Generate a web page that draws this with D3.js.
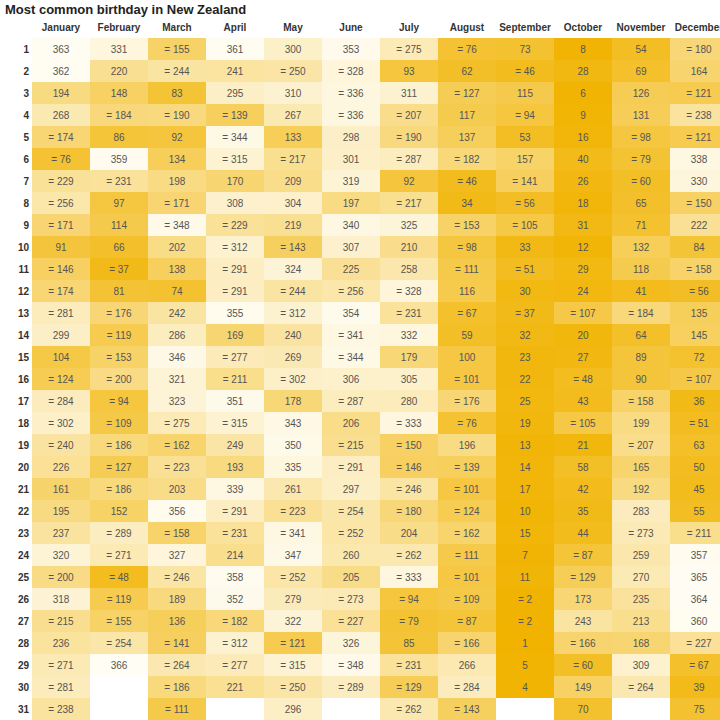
<!DOCTYPE html>
<html lang="en">
<head>
<meta charset="UTF-8">
<title>Most common birthday in New Zealand</title>
<script src="https://cdn.jsdelivr.net/npm/d3@7.9.0/dist/d3.min.js"></script>
<style>
    body { margin: 0; background: #fff; overflow: hidden; }
    svg { display: block; font-family: "Liberation Sans", Arial, sans-serif; }
    .title { font-size: 13px; font-weight: bold; fill: #222; }
    .head { font-size: 10px; font-weight: bold; fill: #333; }
    .cell-label { font-size: 10px; fill: #555; }
</style>
</head>
<body>
<svg id="chart" width="720" height="720"></svg>
<script>
// months along the top, days down the side
const months = ['January', 'February', 'March', 'April', 'May', 'June',
    'July', 'August', 'September', 'October', 'November', 'December'];
const days = d3.range(1, 32);

// birthday rank per day (1 = most common), "=" marks a tie
const january = ['363','362','194','268','=174','=76','=229','=256','=171','91','=146','=174','=281','299','104','=124',
    '=284','=302','=240','226','161','195','237','320','=200','318','=215','236','=271','=281','=238'];
const february = ['331','220','148','=184','86','359','=231','97','114','66','=37','81','=176','=119','=153','=200',
    '=94','=109','=186','=127','=186','152','=289','=271','=48','=119','=155','=254','366'];
const march = ['=155','=244','83','=190','92','134','198','=171','=348','202','138','74','242','286','346','321',
    '323','=275','=162','=223','203','356','=158','327','=246','189','136','=141','=264','=186','=111'];
const april = ['361','241','295','=139','=344','=315','170','308','=229','=312','=291','=291','355','169','=277','=211',
    '351','=315','249','193','339','=291','=231','214','358','352','=182','=312','=277','221'];
const may = ['300','=250','310','267','133','=217','209','304','219','=143','324','=244','=312','240','269','=302',
    '178','343','350','335','261','=223','=341','347','=252','279','322','=121','=315','=250','296'];
const june = ['353','=328','=336','=336','298','301','319','197','340','307','225','=256','354','=341','=344','306',
    '=287','206','=215','=291','297','=254','=252','260','205','=273','=227','326','=348','=289'];
const july = ['=275','93','311','=207','=190','=287','92','=217','325','210','258','=328','=231','332','179','305',
    '280','=333','=150','=146','=246','=180','204','=262','=333','=94','=79','85','=231','=129','=262'];
const august = ['=76','62','=127','117','137','=182','=46','34','=153','=98','=111','116','=67','59','100','=101',
    '=176','=76','196','=139','=101','=124','=162','=111','=101','=109','=87','=166','266','=284','=143'];
const september = ['73','=46','115','=94','53','157','=141','=56','=105','33','=51','30','=37','32','23','22',
    '25','19','13','14','17','10','15','7','11','=2','=2','1','5','4'];
const october = ['8','28','6','9','16','40','26','18','31','12','29','24','=107','20','27','=48',
    '43','=105','21','58','42','35','44','=87','=129','173','243','=166','=60','149','70'];
const november = ['54','69','126','131','=98','=79','=60','65','71','132','118','41','=184','64','89','90',
    '=158','199','=207','165','192','283','=273','259','270','235','213','168','309','=264'];
const december = ['=180','164','=121','=238','=121','338','330','=150','222','84','=158','=56','135','145','72','=107',
    '36','=51','63','50','45','55','=211','357','365','364','360','=227','=67','39','75'];

const ranks = [january, february, march, april, may, june, july, august, september, october, november, december];

// flatten into cells
let cells = [];
ranks.forEach((col, m) => {
    col.forEach((r, i) => {
        let tied = r.startsWith('=');
        let value = +r.replace('=', '');
        cells.push({
            month: months[m],
            day: days[i],
            value: value,
            label: tied ? '= ' + value : String(value)
        });
    });
});

const svg = d3.select('#chart');

let x = d3.scaleBand().domain(months).range([32, 32 + 58 * 12]);
let y = d3.scaleBand().domain(days).range([38, 38 + 22 * 31]);

// rank 1 is the deepest gold, rank 366 nearly white
let color = d3.scaleLinear()
    .domain([1, 366])
    .range(['#f1b300', '#fffdf4'])
    .interpolate(d3.interpolateRgb);

svg.append('text')
    .attr('class', 'title')
    .attr('x', 5)
    .attr('y', 14)
    .text('Most common birthday in New Zealand');

// heatmap cells
svg.selectAll('rect.cell')
    .data(cells)
    .enter()
    .append('rect')
    .attr('class', 'cell')
    .attr('x', d => x(d.month))
    .attr('y', d => y(d.day))
    .attr('width', x.bandwidth())
    .attr('height', y.bandwidth())
    .attr('fill', d => color(d.value));

svg.selectAll('text.cell-label')
    .data(cells)
    .enter()
    .append('text')
    .attr('class', 'cell-label')
    .attr('x', d => x(d.month) + x.bandwidth() / 2)
    .attr('y', d => y(d.day) + y.bandwidth() / 2)
    .attr('text-anchor', 'middle')
    .attr('dominant-baseline', 'central')
    .text(d => d.label);

// month headers
svg.selectAll('text.month')
    .data(months)
    .enter()
    .append('text')
    .attr('class', 'head month')
    .attr('x', d => x(d) + x.bandwidth() / 2)
    .attr('y', 31)
    .attr('text-anchor', 'middle')
    .text(d => d);

// day labels
svg.selectAll('text.day')
    .data(days)
    .enter()
    .append('text')
    .attr('class', 'head day')
    .attr('x', 29)
    .attr('y', d => y(d) + y.bandwidth() / 2)
    .attr('text-anchor', 'end')
    .attr('dominant-baseline', 'central')
    .text(d => d);
</script>
</body>
</html>
